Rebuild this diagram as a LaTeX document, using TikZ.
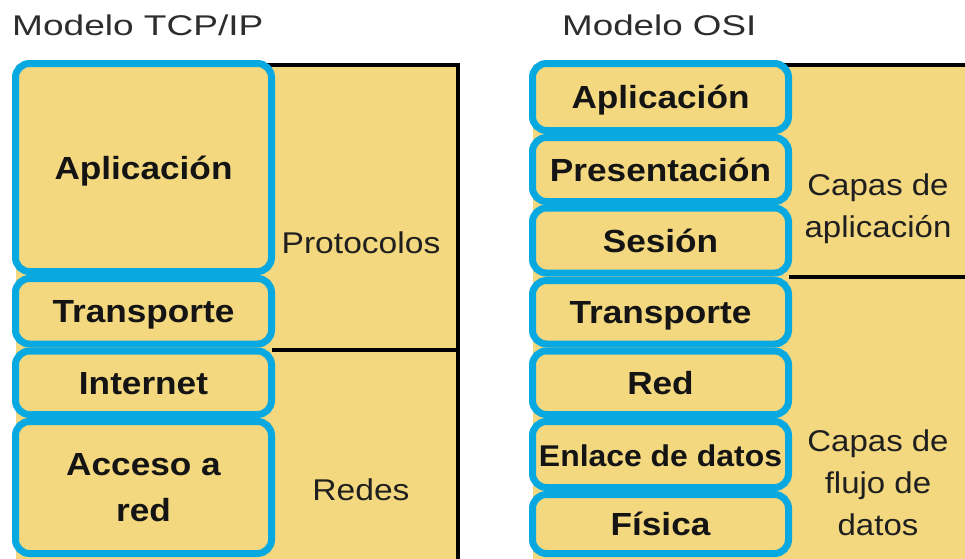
\documentclass[tikz,border=0pt]{standalone}
\usepackage{fontspec}
\setmainfont{Liberation Sans}
\usepackage{graphicx}
\definecolor{layerfill}{RGB}{243,216,127}
\definecolor{layerblue}{RGB}{8,168,224}
\definecolor{titlegray}{RGB}{45,45,45}
\newcommand{\hsc}[2]{\scalebox{#1}[1]{#2}}
\begin{document}
\begin{tikzpicture}[x=1pt,y=-1pt,
  layer/.style={draw=layerblue, line width=7pt, fill=layerfill, rounded corners=14pt,
    minimum width=256pt, inner sep=0pt, text=black!92, align=center,
    font=\bfseries\fontsize{32}{46}\selectfont},
  oneline/.style={text height=23pt, text depth=0pt},
  lbl/.style={text=black!88, align=center, inner sep=0pt,
    font=\fontsize{30}{42}\selectfont},
  ttl/.style={text=titlegray, anchor=base west, inner sep=0pt,
    font=\fontsize{28.5}{34}\selectfont},
  rule/.style={line width=3.5pt, black}]
\useasboundingbox (0,0) rectangle (965,558);
\fill[white] (0,0) rectangle (965,558);

% titles
\node[ttl] (t1) at (12,35) {\hsc{1.3}{Modelo TCP/IP}};
\node[ttl] (t2) at (562,35) {\hsc{1.29}{Modelo OSI}};

% left background panel
\fill[layerfill] (16,65) rectangle (458,570);
\draw[rule] (200,65) -- (458,65) -- (458,570);
\draw[rule] (272,350) -- (458,350);

% right background panel
\fill[layerfill] (533,65) rectangle (975,570);
\draw[rule] (600,65) -- (975,65);
\draw[rule] (789,277) -- (975,277);

% TCP/IP layers
\node[layer, oneline, minimum height=208pt] (lapp) at (143.5,167.5) {\hsc{1.1}{Aplicación}};
\node[layer, oneline, minimum height=65.5pt] (ltra) at (143.5,311.25) {\hsc{1.1}{Transporte}};
\node[layer, oneline, minimum height=63.5pt] (lint) at (143.5,382.75) {\hsc{1.1}{Internet}};
\node[layer, minimum height=132pt] (lacc) at (143.5,487.5) {\hsc{1.1}{Acceso a}\\\hsc{1.1}{red}};

% OSI layers
\node[layer, oneline, minimum height=67pt] (oapp) at (660.5,97) {\hsc{1.1}{Aplicación}};
\node[layer, oneline, minimum height=64pt] (opre) at (660.5,169.5) {\hsc{1.1}{Presentación}};
\node[layer, oneline, minimum height=65pt] (oses) at (660.5,240.5) {\hsc{1.1}{Sesión}};
\node[layer, oneline, minimum height=63.5pt] (otra) at (660.5,312.25) {\hsc{1.1}{Transporte}};
\node[layer, oneline, minimum height=63.5pt] (ored) at (660.5,382.75) {\hsc{1.1}{Red}};
\node[layer, oneline, minimum height=66pt, font=\bfseries\fontsize{30}{36}\selectfont] (oenl) at (660.5,454.5) {\hsc{1.064}{Enlace de datos}};
\node[layer, oneline, minimum height=59pt] (ofis) at (660.5,524) {\hsc{1.1}{Física}};

% panel labels
\node[lbl, text height=21.5pt, text depth=0pt] (proto) at (361,243) {\hsc{1.12}{Protocolos}};
\node[lbl, text height=21.5pt, text depth=0pt] (redes) at (361,490) {\hsc{1.12}{Redes}};
\node[lbl] (capapp) at (878,209) {\hsc{1.1}{Capas de}\\\hsc{1.1}{aplicación}};
\node[lbl] (capflu) at (878,483) {\hsc{1.1}{Capas de}\\\hsc{1.1}{flujo de}\\\hsc{1.1}{datos}};
\end{tikzpicture}
\end{document}
